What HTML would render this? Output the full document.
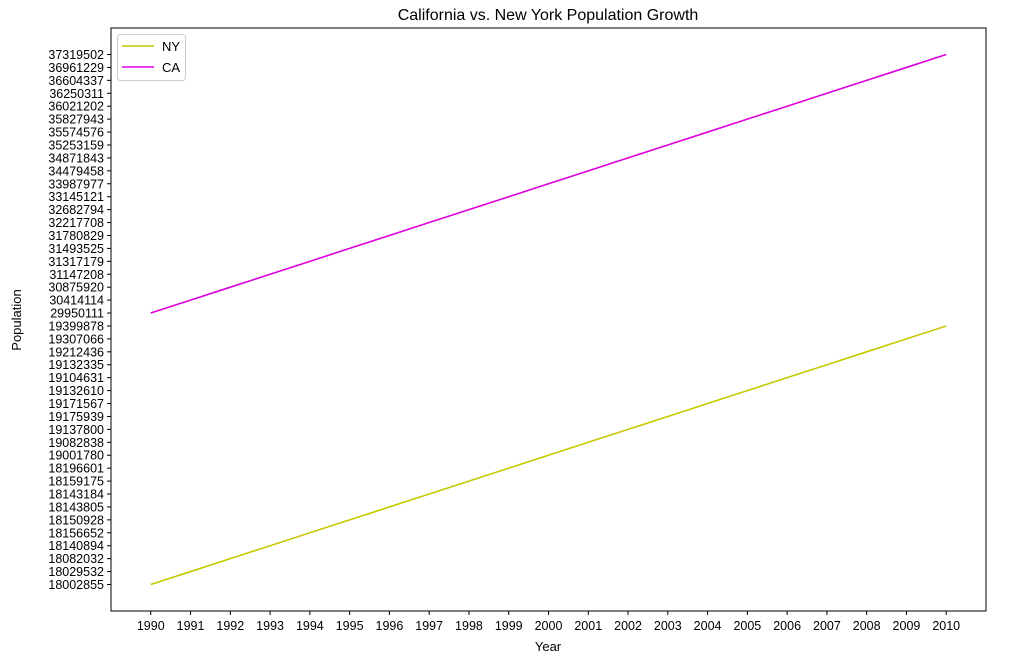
<!DOCTYPE html>
<html><head><meta charset="utf-8"><style>
body{margin:0;background:#fff;}
svg text{font-family:"Liberation Sans","DejaVu Sans",sans-serif;}
</style></head><body>
<svg id="chart" width="1012" height="664" xmlns="http://www.w3.org/2000/svg">
<rect width="1012" height="664" fill="#fff"/>
<text x="548" y="20" text-anchor="middle" font-size="16">California vs. New York Population Growth</text>
<text x="548" y="651" text-anchor="middle" font-size="13">Year</text>
<text transform="translate(21,320) rotate(-90)" text-anchor="middle" font-size="13">Population</text>
<g id="plot"></g>
<rect x="111" y="28" width="875" height="583" fill="none" stroke="#000" stroke-width="1"/>
<g>
<rect x="117.5" y="34.5" width="68" height="46" rx="3" fill="#fff" stroke="#ccc"/>
<line x1="122" y1="46" x2="154" y2="46" stroke="#c8c800" stroke-width="1.6"/>
<text x="162" y="51" font-size="13">NY</text>
<line x1="122" y1="67" x2="154" y2="67" stroke="#dd00dd" stroke-width="1.6"/>
<text x="162" y="72" font-size="13">CA</text>
</g>
</svg>
<script>
const years=[1990,1991,1992,1993,1994,1995,1996,1997,1998,1999,2000,2001,2002,2003,2004,2005,2006,2007,2008,2009,2010];
const nyValues=["18002855","18029532","18082032","18140894","18156652","18150928","18143805","18143184","18159175","18196601","19001780","19082838","19137800","19175939","19171567","19132610","19104631","19132335","19212436","19307066","19399878"];
const caValues=["29950111","30414114","30875920","31147208","31317179","31493525","31780829","32217708","32682794","33145121","33987977","34479458","34871843","35253159","35574576","35827943","36021202","36250311","36604337","36961229","37319502"];
const yCategories=nyValues.concat(caValues);
const NS="http://www.w3.org/2000/svg";
const plot=document.getElementById('plot');
const L=111,R=986,T=28,B=611;
const nx=years.length-1, ny=yCategories.length-1;
const xPad=nx*0.05, yPad=ny*0.05;
function xScale(yr){const i=years.indexOf(yr);return L+(i+xPad)/(nx+2*xPad)*(R-L);}
function yScale(v){const i=yCategories.indexOf(v);return B-(i+yPad)/(ny+2*yPad)*(B-T);}
function mk(tag,attrs){const e=document.createElementNS(NS,tag);for(const k in attrs)e.setAttribute(k,attrs[k]);plot.appendChild(e);return e;}
years.forEach(yr=>{
  const x=xScale(yr);
  const t=mk('line',{x1:x,x2:x,y1:B,y2:B+4,stroke:'#000'});
  
  
  const l=mk('text',{x:x,y:B+19,'text-anchor':'middle','font-size':'12.5'});
  l.textContent=yr;
  
  
});
yCategories.forEach(v=>{
  const y=yScale(v);
  const t=mk('line',{x1:L-4,x2:L,y1:y,y2:y,stroke:'#000'});
  
  
  const l=mk('text',{x:L-7,y:y+4.5,'text-anchor':'end','font-size':'12.5'});
  l.textContent=v;
  
  
});
function series(vals,color,name){
  const pts=vals.map((v,i)=>xScale(years[i]).toFixed(2)+','+yScale(v).toFixed(2)).join(' ');
  const p=mk('polyline',{points:pts,fill:'none',stroke:color,'stroke-width':1.6});
  
  
}
series(nyValues,'#c8c800','ny-line');
series(caValues,'#dd00dd','ca-line');
</script>
</body></html>
